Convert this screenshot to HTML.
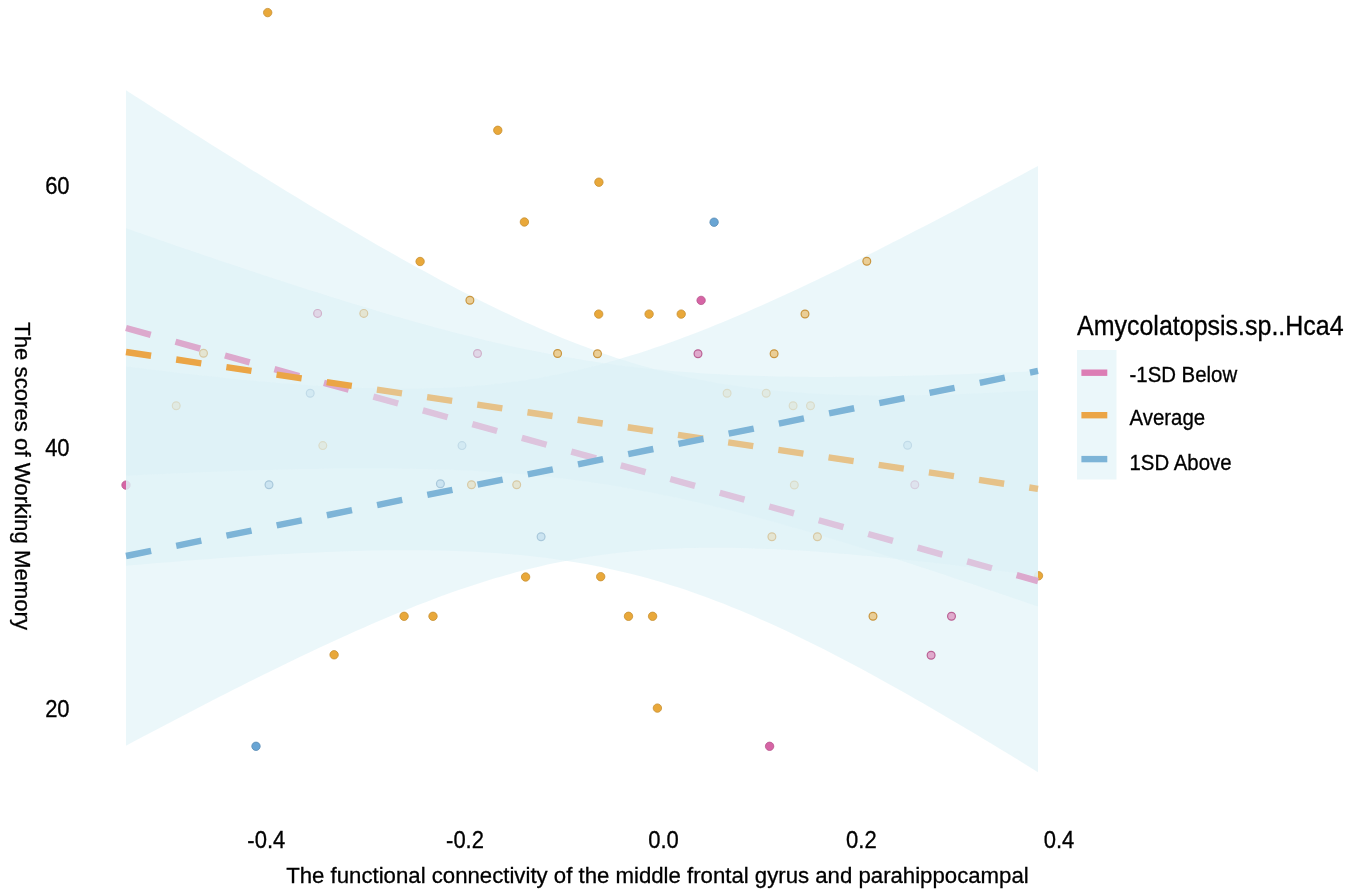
<!DOCTYPE html>
<html><head><meta charset="utf-8"><style>
html,body{margin:0;padding:0;background:#fff;}
body{width:1350px;height:892px;overflow:hidden;font-family:"Liberation Sans",sans-serif;}
svg{display:block;will-change:transform;}
</style></head><body>
<svg width="1350" height="892" viewBox="0 0 1350 892">
<circle cx="126" cy="485.1" r="4.2" fill="#d664a5" stroke="#b6558c" stroke-width="0.8"/>
<circle cx="1038.5" cy="575.8" r="4.2" fill="#e9a83a" stroke="#c68f31" stroke-width="0.8"/>
<path d="M126.0,90.2 L133.7,95.2 L141.3,100.1 L149.0,105.0 L156.7,109.9 L164.3,114.8 L172.0,119.7 L179.6,124.5 L187.3,129.4 L195.0,134.2 L202.6,139.1 L210.3,143.9 L218.0,148.7 L225.6,153.5 L233.3,158.3 L241.0,163.1 L248.6,167.9 L256.3,172.6 L263.9,177.3 L271.6,182.0 L279.3,186.7 L286.9,191.4 L294.6,196.1 L302.3,200.7 L309.9,205.4 L317.6,210.0 L325.3,214.5 L332.9,219.1 L340.6,223.6 L348.3,228.1 L355.9,232.6 L363.6,237.1 L371.2,241.5 L378.9,245.9 L386.6,250.3 L394.2,254.6 L401.9,258.9 L409.6,263.2 L417.2,267.4 L424.9,271.6 L432.6,275.8 L440.2,279.9 L447.9,283.9 L455.5,287.9 L463.2,291.9 L470.9,295.8 L478.5,299.7 L486.2,303.5 L493.9,307.3 L501.5,311.0 L509.2,314.6 L516.9,318.2 L524.5,321.7 L532.2,325.1 L539.8,328.5 L547.5,331.8 L555.2,335.0 L562.8,338.2 L570.5,341.2 L578.2,344.2 L585.8,347.1 L593.5,349.9 L601.2,352.7 L608.8,355.3 L616.5,357.9 L624.2,360.3 L631.8,362.7 L639.5,365.0 L647.1,367.1 L654.8,369.2 L662.5,371.2 L670.1,373.1 L677.8,374.9 L685.5,376.7 L693.1,378.3 L700.8,379.8 L708.5,381.3 L716.1,382.7 L723.8,383.9 L731.4,385.1 L739.1,386.3 L746.8,387.3 L754.4,388.3 L762.1,389.2 L769.8,390.0 L777.4,390.8 L785.1,391.5 L792.8,392.1 L800.4,392.6 L808.1,393.2 L815.7,393.6 L823.4,394.0 L831.1,394.3 L838.7,394.6 L846.4,394.9 L854.1,395.1 L861.7,395.2 L869.4,395.3 L877.1,395.4 L884.7,395.4 L892.4,395.4 L900.1,395.4 L907.7,395.3 L915.4,395.2 L923.0,395.1 L930.7,394.9 L938.4,394.7 L946.0,394.5 L953.7,394.2 L961.4,393.9 L969.0,393.6 L976.7,393.3 L984.4,393.0 L992.0,392.6 L999.7,392.2 L1007.3,391.8 L1015.0,391.4 L1022.7,390.9 L1030.3,390.5 L1038.0,390.0 L1038.0,772.2 L1030.3,767.4 L1022.7,762.7 L1015.0,758.0 L1007.3,753.3 L999.7,748.7 L992.0,744.0 L984.4,739.4 L976.7,734.8 L969.0,730.2 L961.4,725.7 L953.7,721.2 L946.0,716.7 L938.4,712.2 L930.7,707.7 L923.0,703.3 L915.4,698.9 L907.7,694.5 L900.1,690.2 L892.4,685.9 L884.7,681.7 L877.1,677.4 L869.4,673.3 L861.7,669.1 L854.1,665.0 L846.4,661.0 L838.7,656.9 L831.1,653.0 L823.4,649.1 L815.7,645.2 L808.1,641.4 L800.4,637.7 L792.8,634.0 L785.1,630.3 L777.4,626.8 L769.8,623.3 L762.1,619.9 L754.4,616.5 L746.8,613.2 L739.1,610.0 L731.4,606.9 L723.8,603.8 L716.1,600.9 L708.5,598.0 L700.8,595.2 L693.1,592.5 L685.5,589.8 L677.8,587.3 L670.1,584.9 L662.5,582.5 L654.8,580.3 L647.1,578.1 L639.5,576.0 L631.8,574.0 L624.2,572.2 L616.5,570.4 L608.8,568.7 L601.2,567.0 L593.5,565.5 L585.8,564.1 L578.2,562.7 L570.5,561.5 L562.8,560.3 L555.2,559.2 L547.5,558.1 L539.8,557.2 L532.2,556.3 L524.5,555.5 L516.9,554.7 L509.2,554.1 L501.5,553.4 L493.9,552.9 L486.2,552.4 L478.5,551.9 L470.9,551.6 L463.2,551.2 L455.5,550.9 L447.9,550.7 L440.2,550.5 L432.6,550.4 L424.9,550.3 L417.2,550.2 L409.6,550.2 L401.9,550.2 L394.2,550.3 L386.6,550.3 L378.9,550.5 L371.2,550.6 L363.6,550.8 L355.9,551.0 L348.3,551.2 L340.6,551.5 L332.9,551.7 L325.3,552.1 L317.6,552.4 L309.9,552.7 L302.3,553.1 L294.6,553.5 L286.9,553.9 L279.3,554.3 L271.6,554.8 L263.9,555.2 L256.3,555.7 L248.6,556.2 L241.0,556.7 L233.3,557.2 L225.6,557.8 L218.0,558.3 L210.3,558.9 L202.6,559.5 L195.0,560.0 L187.3,560.6 L179.6,561.2 L172.0,561.9 L164.3,562.5 L156.7,563.1 L149.0,563.8 L141.3,564.4 L133.7,565.1 L126.0,565.8 Z" fill="#ddf1f6" fill-opacity="0.6"/>
<path d="M126.0,228.2 L133.7,230.9 L141.3,233.6 L149.0,236.3 L156.7,238.9 L164.3,241.6 L172.0,244.2 L179.6,246.9 L187.3,249.5 L195.0,252.1 L202.6,254.7 L210.3,257.3 L218.0,259.9 L225.6,262.5 L233.3,265.1 L241.0,267.6 L248.6,270.2 L256.3,272.7 L263.9,275.3 L271.6,277.8 L279.3,280.3 L286.9,282.8 L294.6,285.3 L302.3,287.7 L309.9,290.2 L317.6,292.6 L325.3,295.0 L332.9,297.4 L340.6,299.8 L348.3,302.2 L355.9,304.5 L363.6,306.8 L371.2,309.1 L378.9,311.4 L386.6,313.7 L394.2,315.9 L401.9,318.1 L409.6,320.3 L417.2,322.4 L424.9,324.6 L432.6,326.7 L440.2,328.7 L447.9,330.8 L455.5,332.8 L463.2,334.7 L470.9,336.6 L478.5,338.5 L486.2,340.4 L493.9,342.2 L501.5,343.9 L509.2,345.7 L516.9,347.4 L524.5,349.0 L532.2,350.6 L539.8,352.1 L547.5,353.6 L555.2,355.1 L562.8,356.5 L570.5,357.8 L578.2,359.1 L585.8,360.4 L593.5,361.6 L601.2,362.7 L608.8,363.8 L616.5,364.9 L624.2,365.9 L631.8,366.8 L639.5,367.7 L647.1,368.5 L654.8,369.3 L662.5,370.1 L670.1,370.8 L677.8,371.5 L685.5,372.1 L693.1,372.6 L700.8,373.2 L708.5,373.7 L716.1,374.1 L723.8,374.5 L731.4,374.9 L739.1,375.2 L746.8,375.5 L754.4,375.8 L762.1,376.0 L769.8,376.2 L777.4,376.4 L785.1,376.5 L792.8,376.7 L800.4,376.7 L808.1,376.8 L815.7,376.9 L823.4,376.9 L831.1,376.9 L838.7,376.8 L846.4,376.8 L854.1,376.7 L861.7,376.6 L869.4,376.5 L877.1,376.4 L884.7,376.3 L892.4,376.1 L900.1,376.0 L907.7,375.8 L915.4,375.6 L923.0,375.4 L930.7,375.2 L938.4,374.9 L946.0,374.7 L953.7,374.4 L961.4,374.2 L969.0,373.9 L976.7,373.6 L984.4,373.3 L992.0,373.0 L999.7,372.7 L1007.3,372.4 L1015.0,372.0 L1022.7,371.7 L1030.3,371.3 L1038.0,371.0 L1038.0,606.6 L1030.3,604.0 L1022.7,601.3 L1015.0,598.7 L1007.3,596.0 L999.7,593.4 L992.0,590.8 L984.4,588.2 L976.7,585.6 L969.0,583.0 L961.4,580.4 L953.7,577.9 L946.0,575.3 L938.4,572.8 L930.7,570.2 L923.0,567.7 L915.4,565.2 L907.7,562.7 L900.1,560.2 L892.4,557.8 L884.7,555.3 L877.1,552.9 L869.4,550.5 L861.7,548.1 L854.1,545.7 L846.4,543.3 L838.7,541.0 L831.1,538.7 L823.4,536.4 L815.7,534.1 L808.1,531.8 L800.4,529.6 L792.8,527.4 L785.1,525.2 L777.4,523.0 L769.8,520.9 L762.1,518.8 L754.4,516.7 L746.8,514.7 L739.1,512.7 L731.4,510.8 L723.8,508.8 L716.1,506.9 L708.5,505.1 L700.8,503.3 L693.1,501.5 L685.5,499.8 L677.8,498.1 L670.1,496.4 L662.5,494.9 L654.8,493.3 L647.1,491.8 L639.5,490.4 L631.8,488.9 L624.2,487.6 L616.5,486.3 L608.8,485.0 L601.2,483.8 L593.5,482.7 L585.8,481.6 L578.2,480.5 L570.5,479.5 L562.8,478.6 L555.2,477.7 L547.5,476.8 L539.8,476.0 L532.2,475.3 L524.5,474.6 L516.9,473.9 L509.2,473.3 L501.5,472.7 L493.9,472.2 L486.2,471.7 L478.5,471.2 L470.9,470.8 L463.2,470.5 L455.5,470.1 L447.9,469.8 L440.2,469.5 L432.6,469.3 L424.9,469.1 L417.2,468.9 L409.6,468.8 L401.9,468.7 L394.2,468.6 L386.6,468.5 L378.9,468.4 L371.2,468.4 L363.6,468.4 L355.9,468.5 L348.3,468.5 L340.6,468.6 L332.9,468.6 L325.3,468.7 L317.6,468.9 L309.9,469.0 L302.3,469.1 L294.6,469.3 L286.9,469.5 L279.3,469.7 L271.6,469.9 L263.9,470.1 L256.3,470.3 L248.6,470.6 L241.0,470.8 L233.3,471.1 L225.6,471.4 L218.0,471.7 L210.3,472.0 L202.6,472.3 L195.0,472.6 L187.3,472.9 L179.6,473.2 L172.0,473.6 L164.3,473.9 L156.7,474.3 L149.0,474.6 L141.3,475.0 L133.7,475.4 L126.0,475.8 Z" fill="#ddf1f6" fill-opacity="0.6"/>
<path d="M126.0,366.3 L133.7,367.3 L141.3,368.3 L149.0,369.2 L156.7,370.1 L164.3,371.1 L172.0,372.0 L179.6,372.9 L187.3,373.7 L195.0,374.6 L202.6,375.5 L210.3,376.3 L218.0,377.1 L225.6,377.9 L233.3,378.7 L241.0,379.4 L248.6,380.2 L256.3,380.9 L263.9,381.6 L271.6,382.2 L279.3,382.9 L286.9,383.5 L294.6,384.1 L302.3,384.6 L309.9,385.2 L317.6,385.7 L325.3,386.1 L332.9,386.6 L340.6,387.0 L348.3,387.3 L355.9,387.6 L363.6,387.9 L371.2,388.1 L378.9,388.3 L386.6,388.5 L394.2,388.5 L401.9,388.6 L409.6,388.6 L417.2,388.5 L424.9,388.3 L432.6,388.1 L440.2,387.9 L447.9,387.6 L455.5,387.2 L463.2,386.7 L470.9,386.2 L478.5,385.5 L486.2,384.9 L493.9,384.1 L501.5,383.2 L509.2,382.3 L516.9,381.3 L524.5,380.2 L532.2,379.0 L539.8,377.7 L547.5,376.3 L555.2,374.8 L562.8,373.3 L570.5,371.6 L578.2,369.9 L585.8,368.1 L593.5,366.2 L601.2,364.2 L608.8,362.1 L616.5,359.9 L624.2,357.6 L631.8,355.3 L639.5,352.9 L647.1,350.4 L654.8,347.8 L662.5,345.2 L670.1,342.5 L677.8,339.7 L685.5,336.8 L693.1,333.9 L700.8,330.9 L708.5,327.9 L716.1,324.8 L723.8,321.7 L731.4,318.5 L739.1,315.2 L746.8,311.9 L754.4,308.6 L762.1,305.2 L769.8,301.8 L777.4,298.3 L785.1,294.8 L792.8,291.3 L800.4,287.7 L808.1,284.1 L815.7,280.5 L823.4,276.8 L831.1,273.1 L838.7,269.4 L846.4,265.6 L854.1,261.8 L861.7,258.0 L869.4,254.2 L877.1,250.4 L884.7,246.5 L892.4,242.6 L900.1,238.7 L907.7,234.8 L915.4,230.8 L923.0,226.9 L930.7,222.9 L938.4,218.9 L946.0,214.9 L953.7,210.9 L961.4,206.9 L969.0,202.8 L976.7,198.8 L984.4,194.7 L992.0,190.6 L999.7,186.5 L1007.3,182.4 L1015.0,178.3 L1022.7,174.2 L1030.3,170.0 L1038.0,165.9 L1038.0,576.0 L1030.3,575.0 L1022.7,574.0 L1015.0,572.9 L1007.3,571.9 L999.7,570.9 L992.0,570.0 L984.4,569.0 L976.7,568.0 L969.0,567.1 L961.4,566.2 L953.7,565.2 L946.0,564.3 L938.4,563.4 L930.7,562.5 L923.0,561.7 L915.4,560.8 L907.7,560.0 L900.1,559.2 L892.4,558.4 L884.7,557.6 L877.1,556.9 L869.4,556.1 L861.7,555.4 L854.1,554.7 L846.4,554.1 L838.7,553.4 L831.1,552.8 L823.4,552.2 L815.7,551.6 L808.1,551.1 L800.4,550.6 L792.8,550.2 L785.1,549.7 L777.4,549.3 L769.8,549.0 L762.1,548.7 L754.4,548.4 L746.8,548.2 L739.1,548.0 L731.4,547.8 L723.8,547.7 L716.1,547.7 L708.5,547.7 L700.8,547.8 L693.1,547.9 L685.5,548.1 L677.8,548.4 L670.1,548.7 L662.5,549.1 L654.8,549.6 L647.1,550.1 L639.5,550.7 L631.8,551.4 L624.2,552.2 L616.5,553.1 L608.8,554.0 L601.2,555.0 L593.5,556.1 L585.8,557.3 L578.2,558.6 L570.5,560.0 L562.8,561.4 L555.2,563.0 L547.5,564.6 L539.8,566.4 L532.2,568.2 L524.5,570.1 L516.9,572.1 L509.2,574.2 L501.5,576.4 L493.9,578.6 L486.2,581.0 L478.5,583.4 L470.9,585.9 L463.2,588.5 L455.5,591.1 L447.9,593.8 L440.2,596.6 L432.6,599.5 L424.9,602.4 L417.2,605.3 L409.6,608.4 L401.9,611.5 L394.2,614.6 L386.6,617.8 L378.9,621.1 L371.2,624.3 L363.6,627.7 L355.9,631.1 L348.3,634.5 L340.6,638.0 L332.9,641.5 L325.3,645.0 L317.6,648.6 L309.9,652.2 L302.3,655.8 L294.6,659.5 L286.9,663.2 L279.3,666.9 L271.6,670.7 L263.9,674.4 L256.3,678.3 L248.6,682.1 L241.0,685.9 L233.3,689.8 L225.6,693.7 L218.0,697.6 L210.3,701.5 L202.6,705.4 L195.0,709.4 L187.3,713.4 L179.6,717.4 L172.0,721.4 L164.3,725.4 L156.7,729.4 L149.0,733.5 L141.3,737.5 L133.7,741.6 L126.0,745.7 Z" fill="#ddf1f6" fill-opacity="0.6"/>
<circle cx="267.7" cy="12.6" r="4.2" fill="#e9a83a" stroke="#c68f31" stroke-width="0.8"/>
<circle cx="497.8" cy="130.3" r="4.2" fill="#e9a83a" stroke="#c68f31" stroke-width="0.8"/>
<circle cx="598.9" cy="182.2" r="4.2" fill="#e9a83a" stroke="#c68f31" stroke-width="0.8"/>
<circle cx="524.4" cy="222.0" r="4.2" fill="#e9a83a" stroke="#c68f31" stroke-width="0.8"/>
<circle cx="714.1" cy="222.2" r="4.2" fill="#69a5d4" stroke="#598cb4" stroke-width="0.8"/>
<circle cx="420.1" cy="261.5" r="4.2" fill="#e9a83a" stroke="#c68f31" stroke-width="0.8"/>
<circle cx="866.8" cy="261.3" r="3.9" fill="#eace96" stroke="#c99640" stroke-width="1.2"/>
<circle cx="469.9" cy="300.2" r="3.9" fill="#eace96" stroke="#c99640" stroke-width="1.2"/>
<circle cx="701.1" cy="300.4" r="4.2" fill="#d664a5" stroke="#b6558c" stroke-width="0.8"/>
<circle cx="317.6" cy="313.4" r="3.9" fill="#e0d7e7" stroke="#d0b1cb" stroke-width="1.2"/>
<circle cx="363.8" cy="313.4" r="3.9" fill="#e4e5d2" stroke="#d7c9a5" stroke-width="1.2"/>
<circle cx="598.7" cy="314.1" r="4.2" fill="#e9a83a" stroke="#c68f31" stroke-width="0.8"/>
<circle cx="649.1" cy="314.1" r="4.2" fill="#e9a83a" stroke="#c68f31" stroke-width="0.8"/>
<circle cx="681.2" cy="314.1" r="4.2" fill="#e9a83a" stroke="#c68f31" stroke-width="0.8"/>
<circle cx="805" cy="314" r="3.9" fill="#eace96" stroke="#c99640" stroke-width="1.2"/>
<circle cx="203.5" cy="353.2" r="3.9" fill="#e4e5d2" stroke="#d7c9a5" stroke-width="1.2"/>
<circle cx="477.5" cy="353.5" r="3.9" fill="#e0d7e7" stroke="#d0b1cb" stroke-width="1.2"/>
<circle cx="557.6" cy="353.5" r="3.9" fill="#eace96" stroke="#c99640" stroke-width="1.2"/>
<circle cx="597.5" cy="353.8" r="3.9" fill="#eace96" stroke="#c99640" stroke-width="1.2"/>
<circle cx="698" cy="353.7" r="3.9" fill="#e0aacd" stroke="#ba6194" stroke-width="1.2"/>
<circle cx="774.1" cy="353.7" r="3.9" fill="#eace96" stroke="#c99640" stroke-width="1.2"/>
<circle cx="176.2" cy="405.7" r="3.9" fill="#e0eae3" stroke="#dadcca" stroke-width="1.2"/>
<circle cx="310.2" cy="393.2" r="3.9" fill="#d3eaf3" stroke="#c1dbe8" stroke-width="1.2"/>
<circle cx="727.1" cy="393.2" r="3.9" fill="#e0eae3" stroke="#dadcca" stroke-width="1.2"/>
<circle cx="766.2" cy="393.2" r="3.9" fill="#e0eae3" stroke="#dadcca" stroke-width="1.2"/>
<circle cx="793.1" cy="405.7" r="3.9" fill="#e0eae3" stroke="#dadcca" stroke-width="1.2"/>
<circle cx="810.5" cy="405.7" r="3.9" fill="#e0eae3" stroke="#dadcca" stroke-width="1.2"/>
<circle cx="322.8" cy="445.6" r="3.9" fill="#e0eae3" stroke="#dadcca" stroke-width="1.2"/>
<circle cx="462" cy="445.6" r="3.9" fill="#d3eaf3" stroke="#c1dbe8" stroke-width="1.2"/>
<circle cx="907.6" cy="445.2" r="3.9" fill="#d3eaf3" stroke="#c1dbe8" stroke-width="1.2"/>
<circle cx="269" cy="484.7" r="3.9" fill="#cbe4f1" stroke="#a9c8db" stroke-width="1.2"/>
<circle cx="440.4" cy="483.8" r="3.9" fill="#cbe4f1" stroke="#a9c8db" stroke-width="1.2"/>
<circle cx="471.5" cy="484.7" r="3.9" fill="#e4e5d2" stroke="#d7c9a5" stroke-width="1.2"/>
<circle cx="516.7" cy="484.7" r="3.9" fill="#e4e5d2" stroke="#d7c9a5" stroke-width="1.2"/>
<circle cx="794.3" cy="485" r="3.9" fill="#e0eae3" stroke="#dadcca" stroke-width="1.2"/>
<circle cx="914.8" cy="484.7" r="3.9" fill="#dee3ee" stroke="#d6cfdf" stroke-width="1.2"/>
<circle cx="541.1" cy="536.7" r="3.9" fill="#cbe4f1" stroke="#a9c8db" stroke-width="1.2"/>
<circle cx="771.9" cy="536.7" r="3.9" fill="#e4e5d2" stroke="#d7c9a5" stroke-width="1.2"/>
<circle cx="817.4" cy="536.7" r="3.9" fill="#e4e5d2" stroke="#d7c9a5" stroke-width="1.2"/>
<circle cx="525.6" cy="577" r="4.2" fill="#e9a83a" stroke="#c68f31" stroke-width="0.8"/>
<circle cx="600.7" cy="576.7" r="4.2" fill="#e9a83a" stroke="#c68f31" stroke-width="0.8"/>
<circle cx="404.1" cy="616.3" r="4.2" fill="#e9a83a" stroke="#c68f31" stroke-width="0.8"/>
<circle cx="433" cy="616.3" r="4.2" fill="#e9a83a" stroke="#c68f31" stroke-width="0.8"/>
<circle cx="628.5" cy="616.3" r="4.2" fill="#e9a83a" stroke="#c68f31" stroke-width="0.8"/>
<circle cx="652.6" cy="616.3" r="4.2" fill="#e9a83a" stroke="#c68f31" stroke-width="0.8"/>
<circle cx="873" cy="616.3" r="3.9" fill="#eace96" stroke="#c99640" stroke-width="1.2"/>
<circle cx="951.5" cy="616.3" r="3.9" fill="#e0aacd" stroke="#ba6194" stroke-width="1.2"/>
<circle cx="334.1" cy="654.8" r="4.2" fill="#e9a83a" stroke="#c68f31" stroke-width="0.8"/>
<circle cx="931.1" cy="655.2" r="3.9" fill="#e0aacd" stroke="#ba6194" stroke-width="1.2"/>
<circle cx="657.4" cy="708.1" r="4.2" fill="#e9a83a" stroke="#c68f31" stroke-width="0.8"/>
<circle cx="256" cy="746.3" r="4.2" fill="#69a5d4" stroke="#598cb4" stroke-width="0.8"/>
<circle cx="769.6" cy="746.3" r="4.2" fill="#d664a5" stroke="#b6558c" stroke-width="0.8"/>
<line x1="126.00" y1="328.00" x2="150.74" y2="334.87" stroke="#dca9cd" stroke-width="6.4"/>
<line x1="175.48" y1="341.73" x2="200.22" y2="348.60" stroke="#dca9cd" stroke-width="6.4"/>
<line x1="224.96" y1="355.46" x2="249.70" y2="362.33" stroke="#dca9cd" stroke-width="6.4"/>
<line x1="274.44" y1="369.19" x2="299.18" y2="376.06" stroke="#dca9cd" stroke-width="6.4"/>
<line x1="323.92" y1="382.92" x2="348.66" y2="389.79" stroke="#dca9cd" stroke-width="6.4"/>
<line x1="373.40" y1="396.65" x2="398.14" y2="403.52" stroke="#ddc4dd" stroke-width="6.4"/>
<line x1="422.88" y1="410.38" x2="447.62" y2="417.25" stroke="#ddc4dd" stroke-width="6.4"/>
<line x1="472.36" y1="424.11" x2="497.10" y2="430.98" stroke="#ddc4dd" stroke-width="6.4"/>
<line x1="521.84" y1="437.85" x2="546.58" y2="444.71" stroke="#ddc4dd" stroke-width="6.4"/>
<line x1="571.32" y1="451.58" x2="596.06" y2="458.44" stroke="#ddc4dd" stroke-width="6.4"/>
<line x1="620.80" y1="465.31" x2="645.54" y2="472.17" stroke="#ddc4dd" stroke-width="6.4"/>
<line x1="670.28" y1="479.04" x2="695.02" y2="485.90" stroke="#ddc4dd" stroke-width="6.4"/>
<line x1="719.76" y1="492.77" x2="744.50" y2="499.63" stroke="#ddc4dd" stroke-width="6.4"/>
<line x1="769.24" y1="506.50" x2="793.98" y2="513.36" stroke="#ddc4dd" stroke-width="6.4"/>
<line x1="818.72" y1="520.23" x2="843.46" y2="527.10" stroke="#ddc4dd" stroke-width="6.4"/>
<line x1="868.20" y1="533.96" x2="892.94" y2="540.83" stroke="#ddc4dd" stroke-width="6.4"/>
<line x1="917.68" y1="547.69" x2="942.42" y2="554.56" stroke="#ddc4dd" stroke-width="6.4"/>
<line x1="967.16" y1="561.42" x2="991.90" y2="568.29" stroke="#ddc4dd" stroke-width="6.4"/>
<line x1="1016.64" y1="575.15" x2="1038.00" y2="581.08" stroke="#dca9cd" stroke-width="6.4"/>
<line x1="126.00" y1="352.00" x2="151.09" y2="355.76" stroke="#eba546" stroke-width="6.4"/>
<line x1="176.18" y1="359.53" x2="201.27" y2="363.29" stroke="#eba546" stroke-width="6.4"/>
<line x1="226.36" y1="367.05" x2="251.45" y2="370.82" stroke="#eba546" stroke-width="6.4"/>
<line x1="276.54" y1="374.58" x2="301.63" y2="378.34" stroke="#eba546" stroke-width="6.4"/>
<line x1="326.72" y1="382.11" x2="351.81" y2="385.87" stroke="#eba546" stroke-width="6.4"/>
<line x1="376.90" y1="389.63" x2="401.99" y2="393.40" stroke="#e6c289" stroke-width="6.4"/>
<line x1="427.08" y1="397.16" x2="452.17" y2="400.93" stroke="#e6c289" stroke-width="6.4"/>
<line x1="477.26" y1="404.69" x2="502.35" y2="408.45" stroke="#e6c289" stroke-width="6.4"/>
<line x1="527.44" y1="412.22" x2="552.53" y2="415.98" stroke="#e6c289" stroke-width="6.4"/>
<line x1="577.62" y1="419.74" x2="602.71" y2="423.51" stroke="#e6c289" stroke-width="6.4"/>
<line x1="627.80" y1="427.27" x2="652.89" y2="431.03" stroke="#e6c289" stroke-width="6.4"/>
<line x1="677.98" y1="434.80" x2="703.07" y2="438.56" stroke="#e6c289" stroke-width="6.4"/>
<line x1="728.16" y1="442.32" x2="753.25" y2="446.09" stroke="#e6c289" stroke-width="6.4"/>
<line x1="778.34" y1="449.85" x2="803.43" y2="453.61" stroke="#e6c289" stroke-width="6.4"/>
<line x1="828.52" y1="457.38" x2="853.61" y2="461.14" stroke="#e6c289" stroke-width="6.4"/>
<line x1="878.70" y1="464.90" x2="903.79" y2="468.67" stroke="#e6c289" stroke-width="6.4"/>
<line x1="928.88" y1="472.43" x2="953.97" y2="476.20" stroke="#e6c289" stroke-width="6.4"/>
<line x1="979.06" y1="479.96" x2="1004.15" y2="483.72" stroke="#e6c289" stroke-width="6.4"/>
<line x1="1029.24" y1="487.49" x2="1038.00" y2="488.80" stroke="#e6c289" stroke-width="6.4"/>
<line x1="126.00" y1="556.00" x2="151.11" y2="550.91" stroke="#7db4d7" stroke-width="6.4"/>
<line x1="176.22" y1="545.81" x2="201.33" y2="540.72" stroke="#7db4d7" stroke-width="6.4"/>
<line x1="226.44" y1="535.62" x2="251.55" y2="530.53" stroke="#7db4d7" stroke-width="6.4"/>
<line x1="276.66" y1="525.43" x2="301.77" y2="520.34" stroke="#7db4d7" stroke-width="6.4"/>
<line x1="326.88" y1="515.24" x2="351.99" y2="510.15" stroke="#7db4d7" stroke-width="6.4"/>
<line x1="377.10" y1="505.05" x2="402.21" y2="499.96" stroke="#7db4d7" stroke-width="6.4"/>
<line x1="427.32" y1="494.86" x2="452.43" y2="489.77" stroke="#7db4d7" stroke-width="6.4"/>
<line x1="477.54" y1="484.67" x2="502.65" y2="479.58" stroke="#7db4d7" stroke-width="6.4"/>
<line x1="527.76" y1="474.48" x2="552.87" y2="469.39" stroke="#7db4d7" stroke-width="6.4"/>
<line x1="577.98" y1="464.29" x2="603.09" y2="459.20" stroke="#7db4d7" stroke-width="6.4"/>
<line x1="628.20" y1="454.10" x2="653.31" y2="449.01" stroke="#7db4d7" stroke-width="6.4"/>
<line x1="678.42" y1="443.91" x2="703.53" y2="438.82" stroke="#7db4d7" stroke-width="6.4"/>
<line x1="728.64" y1="433.72" x2="753.75" y2="428.63" stroke="#7db4d7" stroke-width="6.4"/>
<line x1="778.86" y1="423.53" x2="803.97" y2="418.44" stroke="#7db4d7" stroke-width="6.4"/>
<line x1="829.08" y1="413.35" x2="854.19" y2="408.25" stroke="#7db4d7" stroke-width="6.4"/>
<line x1="879.30" y1="403.16" x2="904.41" y2="398.06" stroke="#7db4d7" stroke-width="6.4"/>
<line x1="929.52" y1="392.97" x2="954.63" y2="387.87" stroke="#7db4d7" stroke-width="6.4"/>
<line x1="979.74" y1="382.78" x2="1004.85" y2="377.68" stroke="#7db4d7" stroke-width="6.4"/>
<line x1="1029.96" y1="372.59" x2="1038.00" y2="370.96" stroke="#7db4d7" stroke-width="6.4"/>
<text transform="translate(69.6,193.6) scale(1,1.07)" font-family="Liberation Sans, sans-serif" stroke="#000" stroke-width="0.3" font-size="22" text-anchor="end" fill="#000">60</text>
<text transform="translate(69.6,456.1) scale(1,1.07)" font-family="Liberation Sans, sans-serif" stroke="#000" stroke-width="0.3" font-size="22" text-anchor="end" fill="#000">40</text>
<text transform="translate(69.6,717.3) scale(1,1.07)" font-family="Liberation Sans, sans-serif" stroke="#000" stroke-width="0.3" font-size="22" text-anchor="end" fill="#000">20</text>
<text transform="translate(266.3,847.6) scale(1,1.07)" font-family="Liberation Sans, sans-serif" stroke="#000" stroke-width="0.3" font-size="22" text-anchor="middle" fill="#000">-0.4</text>
<text transform="translate(465,847.6) scale(1,1.07)" font-family="Liberation Sans, sans-serif" stroke="#000" stroke-width="0.3" font-size="22" text-anchor="middle" fill="#000">-0.2</text>
<text transform="translate(663.5,847.6) scale(1,1.07)" font-family="Liberation Sans, sans-serif" stroke="#000" stroke-width="0.3" font-size="22" text-anchor="middle" fill="#000">0.0</text>
<text transform="translate(861.4,847.6) scale(1,1.07)" font-family="Liberation Sans, sans-serif" stroke="#000" stroke-width="0.3" font-size="22" text-anchor="middle" fill="#000">0.2</text>
<text transform="translate(1059,847.6) scale(1,1.07)" font-family="Liberation Sans, sans-serif" stroke="#000" stroke-width="0.3" font-size="22" text-anchor="middle" fill="#000">0.4</text>
<text x="286.2" y="882.7" font-family="Liberation Sans, sans-serif" stroke="#000" stroke-width="0.3" font-size="22.2" fill="#000">The functional connectivity of the middle frontal gyrus and parahippocampal</text>
<text transform="translate(14.6,322.2) rotate(90)" font-family="Liberation Sans, sans-serif" stroke="#000" stroke-width="0.3" font-size="22.2" fill="#000">The scores of Working Memory</text>
<text transform="translate(1077,335.2) scale(1,1.1)" font-family="Liberation Sans, sans-serif" stroke="#000" stroke-width="0.3" font-size="25" fill="#000">Amycolatopsis.sp..Hca4</text>
<rect x="1077" y="350" width="39.5" height="129.5" fill="#ddf1f6" fill-opacity="0.6"/>
<line x1="1081.4" y1="372.7" x2="1107.3" y2="372.7" stroke="#dc7db4" stroke-width="6.4"/>
<text transform="translate(1129.5,382.0) scale(1,1.08)" font-family="Liberation Sans, sans-serif" stroke="#000" stroke-width="0.3" font-size="20.4" fill="#000">-1SD Below</text>
<line x1="1081.4" y1="415.2" x2="1107.3" y2="415.2" stroke="#eba546" stroke-width="6.4"/>
<text transform="translate(1129.5,425.3) scale(1,1.08)" font-family="Liberation Sans, sans-serif" stroke="#000" stroke-width="0.3" font-size="20.4" fill="#000">Average</text>
<line x1="1081.4" y1="459.1" x2="1107.3" y2="459.1" stroke="#7db4d7" stroke-width="6.4"/>
<text transform="translate(1129.5,469.7) scale(1,1.08)" font-family="Liberation Sans, sans-serif" stroke="#000" stroke-width="0.3" font-size="20.4" fill="#000">1SD Above</text>
</svg>
</body></html>
